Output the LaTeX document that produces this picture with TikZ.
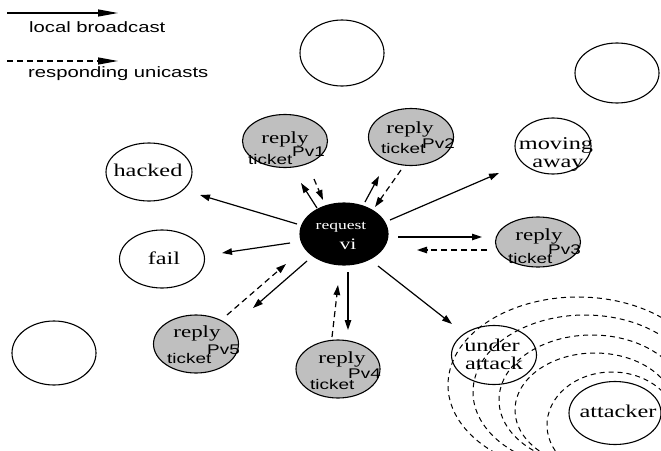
\documentclass[tikz,border=0pt]{standalone}
\usepackage{fontspec}
\setmainfont{Liberation Serif}[FakeStretch=1.35]
\setsansfont{Liberation Sans}[FakeStretch=1.35]
\usetikzlibrary{shapes.geometric,arrows.meta}
\begin{document}
\begin{tikzpicture}[x=1pt,y=-1pt,
  bcast/.style={line width=1.2pt,-{Triangle[length=10pt,width=6.5pt]}},
  ucast/.style={bcast,dash pattern=on 6pt off 4pt},
  legline/.style={line width=1.2pt,-{Triangle[length=20pt,width=7pt]}},
  state/.style={ellipse,draw,line width=1.1pt,inner sep=0pt},
  rep/.style={state,fill=black!25},
  lbl/.style={font=\fontsize{18}{18}\selectfont,anchor=base,inner sep=0pt},
  rlbl/.style={font=\fontsize{17}{17}\selectfont,anchor=base,inner sep=0pt},
  slbl/.style={font=\sffamily\fontsize{14}{14}\selectfont,anchor=base west,inner sep=0pt},
  leg/.style={font=\sffamily\fontsize{15}{15}\selectfont,anchor=base west,inner sep=0pt},
  wave/.style={line width=1pt,dash pattern=on 5pt off 4pt}
]
\useasboundingbox (0,0) rectangle (661,450);

% legend
\coordinate (l1a) at (7,13);
\coordinate (l1b) at (118,13);
\coordinate (l2a) at (7,61);
\coordinate (l2b) at (118,61);
\draw[legline] (l1a) -- (l1b);
\draw[legline,dash pattern=on 6pt off 4pt] (l2a) -- (l2b);
\node[leg] (lt1) at (29,32) {local broadcast};
\node[leg] (lt2) at (28,77) {responding unicasts};

% attack waves
\begin{scope}
\clip (0,0) rectangle (661,450);
\draw[wave] (578,385) ++(100:130 and 88) arc[start angle=100,end angle=340,x radius=130,y radius=88];
\draw[wave] (585,392) ++(100:112 and 77) arc[start angle=100,end angle=340,x radius=112,y radius=77];
\draw[wave] (592,400) ++(100:93 and 65) arc[start angle=100,end angle=340,x radius=93,y radius=65];
\draw[wave] (595,410) ++(100:80 and 57) arc[start angle=100,end angle=340,x radius=80,y radius=57];
\draw[wave] (612,425) ++(100:65 and 53) arc[start angle=100,end angle=340,x radius=65,y radius=53];
\end{scope}

% empty nodes
\node[state,minimum width=84,minimum height=66] (e1) at (342,53) {};
\node[state,minimum width=84,minimum height=60] (e2) at (617,73) {};
\node[state,minimum width=84,minimum height=64] (e3) at (54,353) {};

% center
\node[state,fill=black,minimum width=88,minimum height=62] (req) at (344,234) {};
\node[font=\fontsize{13}{13}\selectfont,text=white,anchor=base,inner sep=0pt] (reqt) at (341,229) {request};
\node[font=\fontsize{16}{16}\selectfont,text=white,anchor=base,inner sep=0pt] (vit) at (348,249) {vi};

% state nodes
\node[state,minimum width=86,minimum height=58] (hacked) at (149,172) {};
\node[lbl] (hackedt) at (148,176) {hacked};
\node[state,minimum width=85,minimum height=58] (fail) at (162,259) {};
\node[lbl] (failt) at (164,264) {fail};
\node[state,minimum width=76,minimum height=56] (moving) at (553,146) {};
\node[lbl] (movt1) at (556,149) {moving};
\node[lbl] (movt2) at (558,167) {away};
\node[state,minimum width=85,minimum height=59] (under) at (494,355) {};
\node[lbl] (undt1) at (492,351) {under};
\node[lbl] (undt2) at (494,369) {attack};
\node[state,minimum width=92,minimum height=63] (attacker) at (615,413) {};
\node[lbl] (attt) at (618,417) {attacker};

% reply nodes
\node[rep,minimum width=85,minimum height=53] (p1) at (285,141) {};
\node[rlbl] (p1r) at (285,143) {reply};
\node[slbl] (p1t) at (248,164) {ticket};
\node[slbl] (p1v) at (292,156) {Pv1};

\node[rep,minimum width=85,minimum height=57] (p2) at (411,137) {};
\node[rlbl] (p2r) at (410,133) {reply};
\node[slbl] (p2t) at (381,153) {ticket};
\node[slbl] (p2v) at (422,148) {Pv2};

\node[rep,minimum width=85,minimum height=50] (p3) at (538,242) {};
\node[rlbl] (p3r) at (539,240) {reply};
\node[slbl] (p3t) at (508,263) {ticket};
\node[slbl] (p3v) at (548,254) {Pv3};

\node[rep,minimum width=84,minimum height=58] (p4) at (338,369) {};
\node[rlbl] (p4r) at (342,363) {reply};
\node[slbl] (p4t) at (310,389) {ticket};
\node[slbl] (p4v) at (348,378) {Pv4};

\node[rep,minimum width=85,minimum height=58] (p5) at (196,344) {};
\node[rlbl] (p5r) at (197,337) {reply};
\node[slbl] (p5t) at (167,363) {ticket};
\node[slbl] (p5v) at (207,354) {Pv5};

% arrow end points
\coordinate (hA) at (297,224); \coordinate (hB) at (200,195);
\coordinate (fA) at (290,243); \coordinate (fB) at (222,253);
\coordinate (a1A) at (317,208); \coordinate (a1B) at (301,183);
\coordinate (d1A) at (314,179); \coordinate (d1B) at (323,200);
\coordinate (a2A) at (365,202); \coordinate (a2B) at (379,176);
\coordinate (d2A) at (401,170); \coordinate (d2B) at (375,207);
\coordinate (mA) at (390,220); \coordinate (mB) at (499,173);
\coordinate (a3A) at (398,237); \coordinate (a3B) at (482,237);
\coordinate (d3A) at (487,250); \coordinate (d3B) at (417,250);
\coordinate (uA) at (378,266); \coordinate (uB) at (452,324);
\coordinate (a4A) at (348,272); \coordinate (a4B) at (348,330);
\coordinate (d4A) at (332,337); \coordinate (d4B) at (338,285);
\coordinate (a5A) at (307,261); \coordinate (a5B) at (253,308);
\coordinate (d5A) at (227,315); \coordinate (d5B) at (286,264);

\draw[bcast] (hA) -- (hB);
\draw[bcast] (fA) -- (fB);
\draw[bcast] (a1A) -- (a1B);
\draw[ucast] (d1A) -- (d1B);
\draw[bcast] (a2A) -- (a2B);
\draw[ucast] (d2A) -- (d2B);
\draw[bcast] (mA) -- (mB);
\draw[bcast] (a3A) -- (a3B);
\draw[ucast] (d3A) -- (d3B);
\draw[bcast] (uA) -- (uB);
\draw[bcast] (a4A) -- (a4B);
\draw[ucast] (d4A) -- (d4B);
\draw[bcast] (a5A) -- (a5B);
\draw[ucast] (d5A) -- (d5B);
\end{tikzpicture}
\end{document}
